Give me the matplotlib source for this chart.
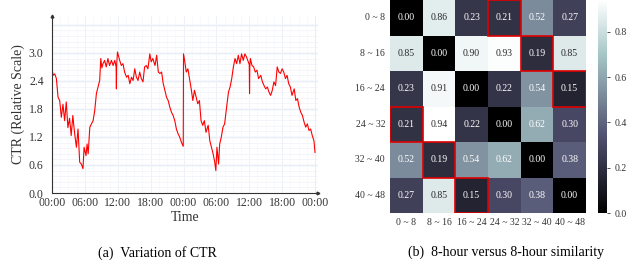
import numpy as np
import matplotlib
matplotlib.use("Agg")
import matplotlib.pyplot as plt
import seaborn as sns
from matplotlib.patches import Rectangle

# CTR curve (hours since start, relative CTR)
hours = [0.0, 0.2, 0.5, 0.8, 1.1, 1.4, 1.7, 2.0, 2.3, 2.6, 2.9, 3.2, 3.5, 3.8,
         4.1, 4.45, 4.75, 5.05, 5.35, 5.65, 5.85, 6.2, 6.4, 6.6, 6.9, 7.2, 7.5,
         7.8, 8.1, 8.4, 8.7, 8.9, 9.1, 9.3, 9.6, 9.9, 10.2, 10.5, 10.85, 11.15,
         11.45, 11.7, 11.75, 11.8, 11.95, 12.35, 12.65, 12.95, 13.25, 13.6, 13.9,
         14.2, 14.5, 14.8, 15.1, 15.4, 15.7, 16.0, 16.3, 16.6, 16.9, 17.2, 17.5,
         17.85, 18.1, 18.4, 18.8, 19.1, 19.4, 19.7, 20.0, 20.3, 20.6, 20.9, 21.2,
         21.5, 21.8, 22.1, 22.4, 22.7, 23.0, 23.3, 23.6, 23.95, 24.0, 24.2, 24.5,
         24.8, 25.1, 25.4, 25.7, 26.0, 26.3, 26.6, 26.9, 27.2, 27.5, 27.8, 28.1,
         28.5, 28.8, 29.1, 29.4, 29.7, 29.9, 30.1, 30.4, 30.6, 30.9, 31.2, 31.5,
         31.8, 32.2, 32.5, 32.8, 33.1, 33.4, 33.7, 34.0, 34.3, 34.6, 34.9, 35.2,
         35.5, 35.8, 36.0, 36.05, 36.1, 36.2, 36.5, 36.8, 37.1, 37.4, 37.7, 38.1,
         38.4, 38.7, 39.0, 39.3, 39.6, 39.9, 40.2, 40.5, 40.8, 41.1, 41.4, 41.7,
         42.0, 42.3, 42.6, 42.9, 43.2, 43.5, 43.8, 44.2, 44.5, 44.8, 45.1, 45.4,
         45.7, 46.0, 46.3, 46.6, 46.9, 47.2, 47.5, 47.8, 48.0]
ctr = [2.66, 2.52, 2.55, 2.45, 2.05, 1.98, 1.62, 1.90, 1.55, 1.95, 1.40, 1.60,
       1.23, 1.66, 1.30, 0.98, 1.37, 0.66, 0.62, 0.52, 0.98, 0.80, 1.05, 0.84,
       1.41, 1.48, 1.55, 1.77, 2.13, 2.27, 2.41, 2.88, 2.68, 2.77, 2.84, 2.70,
       2.88, 2.73, 2.84, 2.73, 2.84, 2.70, 2.23, 2.75, 3.02, 2.84, 2.73, 2.77,
       2.59, 2.48, 2.52, 2.34, 2.48, 2.41, 2.66, 2.48, 2.41, 2.59, 2.45, 2.38,
       2.70, 2.73, 2.66, 2.98, 2.81, 2.88, 2.73, 2.95, 2.59, 2.56, 2.59, 2.34,
       2.20, 2.05, 1.98, 1.84, 1.73, 1.66, 1.55, 1.37, 1.27, 1.20, 1.09, 1.00,
       2.98, 2.84, 2.59, 2.66, 2.45, 2.23, 1.98, 2.20, 2.05, 1.91, 1.98, 1.55,
       1.45, 1.55, 1.30, 1.45, 1.12, 0.98, 0.84, 0.66, 0.48, 0.98, 0.62, 1.05,
       1.20, 1.41, 1.48, 1.77, 2.16, 2.27, 2.45, 2.70, 2.88, 2.77, 2.95, 2.77,
       2.98, 2.84, 2.98, 2.91, 2.81, 2.75, 2.13, 2.70, 2.88, 2.73, 2.70, 2.59,
       2.63, 2.45, 2.52, 2.38, 2.30, 2.23, 2.27, 2.16, 2.09, 2.20, 2.38, 2.30,
       2.70, 2.59, 2.56, 2.66, 2.59, 2.45, 2.52, 2.34, 2.27, 2.09, 2.23, 1.98,
       2.02, 1.84, 1.73, 1.66, 1.52, 1.41, 1.48, 1.34, 1.37, 1.23, 1.12, 0.87]
time_labels = ["00:00", "06:00", "12:00", "18:00", "00:00", "06:00", "12:00",
               "18:00", "00:00"]

# 8-hour vs 8-hour similarity
periods = ["0 ~ 8", "8 ~ 16", "16 ~ 24", "24 ~ 32", "32 ~ 40", "40 ~ 48"]
sim = [[0.00, 0.86, 0.23, 0.21, 0.52, 0.27],
       [0.85, 0.00, 0.90, 0.93, 0.19, 0.85],
       [0.23, 0.91, 0.00, 0.22, 0.54, 0.15],
       [0.21, 0.94, 0.22, 0.00, 0.62, 0.30],
       [0.52, 0.19, 0.54, 0.62, 0.00, 0.38],
       [0.27, 0.85, 0.15, 0.30, 0.38, 0.00]]
boxed = [(0, 3), (1, 4), (2, 5), (3, 0), (4, 1), (5, 2)]

plt.rcParams["font.family"] = ["Liberation Serif", "DejaVu Serif"]

fig = plt.figure(figsize=(6.39, 2.66), dpi=100)

# --- (a) CTR line
ax = fig.add_axes([0.0814, 0.2744, 0.4163, 0.6654])
ax.plot(hours, ctr, color="#ff0000", lw=0.8)
ax.set_xlim(0, 48.55)
ax.set_ylim(0, 3.79)
ax.set_xticks(np.arange(0, 49, 6))
ax.set_xticklabels(time_labels)
ax.set_yticks([0.0, 0.6, 1.2, 1.8, 2.4, 3.0])
ax.set_yticklabels(["0.0", "0.6", "1.2", "1.8", "2.4", "3.0"])
for y in np.arange(0.6, 3.7, 0.6):
    ax.axhline(y, color="#dde5f2", lw=1.0, zorder=0)
for y in np.arange(0.12, 3.7, 0.12):
    ax.axhline(y, color="#eef2f9", lw=0.5, zorder=0)
for x in np.arange(6, 49, 6):
    ax.axvline(x, color="#e8edf5", lw=0.7, zorder=0)
for x in np.arange(1.5, 48, 1.5):
    ax.axvline(x, color="#f3f5fa", lw=0.4, zorder=0)
for s in ["top", "right"]:
    ax.spines[s].set_visible(False)
for s in ["left", "bottom"]:
    ax.spines[s].set_color("#333333")
    ax.spines[s].set_linewidth(0.8)
ax.tick_params(length=0, labelsize=8.5, colors="#333333")
ax.tick_params(axis="y", pad=6)
ax.tick_params(axis="x", pad=3)
ax.plot(1, 0, ">", color="#333333", ms=2, transform=ax.transAxes, clip_on=False)
ax.plot(0, 1, "^", color="#333333", ms=2, transform=ax.transAxes, clip_on=False)
ax.set_xlabel("Time", fontsize=10, color="#333333", labelpad=1)
ax.set_ylabel("CTR (Relative Scale)", fontsize=10, color="#333333", labelpad=3)

# --- (b) similarity heatmap
hax = fig.add_axes([0.6103, 0.1992, 0.3067, 0.8008])
cax = fig.add_axes([0.9358, 0.1992, 0.0141, 0.8008])
sns.heatmap(np.array(sim), ax=hax, cbar_ax=cax, cmap="bone", vmin=0,
            vmax=0.94, annot=True, fmt=".2f",
            annot_kws={"fontsize": 7, "family": "Liberation Serif"},
            xticklabels=periods, yticklabels=periods)
for r, c in boxed:
    hax.add_patch(Rectangle((c, r), 1, 1, fill=False, edgecolor="#e00000",
                            lw=1.2, zorder=5))
hax.tick_params(length=0, labelsize=7, colors="#333333")
hax.set_yticklabels(periods, rotation=0)
hax.set_xticklabels(periods, rotation=0)
cax.set_yticks([0.0, 0.2, 0.4, 0.6, 0.8])
cax.set_yticklabels(["0.0", "0.2", "0.4", "0.6", "0.8"])
cax.tick_params(labelsize=7, length=2, width=0.6, colors="#333333")
for s in cax.spines.values():
    s.set_visible(False)

fig.text(0.246, 0.05, "(a)  Variation of CTR", ha="center", va="center",
         fontsize=10)
fig.text(0.792, 0.05, "(b)  8-hour versus 8-hour similarity", ha="center",
         va="center", fontsize=10)

fig.savefig("out.png", dpi=100)
